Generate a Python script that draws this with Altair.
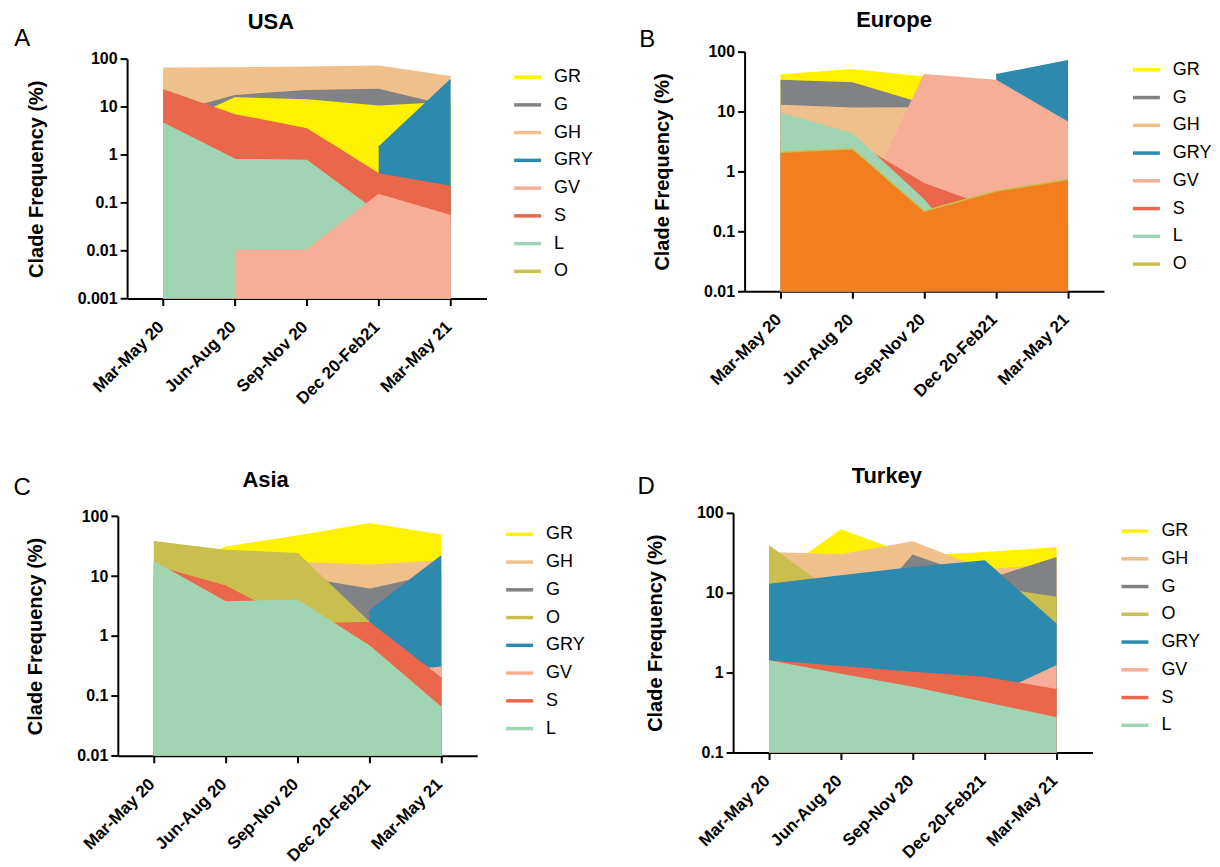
import altair as alt
import pandas as pd

periods = ["Mar-May 20", "Jun-Aug 20", "Sep-Nov 20", "Dec 20-Feb21", "Mar-May 21"]

colors = {"GR": "#FFF100", "G": "#808285", "GH": "#F0C08C", "GRY": "#2E89AE",
          "GV": "#F7AE96", "S": "#EA674B", "L": "#A1D4B2", "O": "#C9BE4E"}
europe_o_fill = "#F27E20"

# ---- USA ----
usa_legend = ["GR", "G", "GH", "GRY", "GV", "S", "L", "O"]
usa_draw = ["GH", "G", "GR", "GRY", "S", "L", "GV"]
usa_GR = [3.2, 15.3, 13.9, 10.3, 12.3]
usa_G = [6.6, 17.1, 21.8, 22.9, 10.0]
usa_GH = [63.8, 64.9, 67.0, 70.3, 42.7]
usa_GRY = [None, None, None, 1.43, 36.5]
usa_GV = [None, 0.0103, 0.0103, 0.147, 0.0535]
usa_S = [22.5, 6.8, 3.46, 0.397, 0.219]
usa_L = [4.54, 0.80, 0.755, 0.059, 0.03]
usa_ticks = [0.001, 0.01, 0.1, 1, 10, 100]

# ---- Europe ----
eu_legend = ["GR", "G", "GH", "GRY", "GV", "S", "L", "O"]
eu_draw = ["GR", "G", "GH", "GRY", "GV", "S", "L", "O"]
eu_GR = [40.9, 50.0, 37.3, None, None]
eu_G = [32.9, 30.0, 13.1, None, None]
eu_GH = [12.6, 11.4, 11.5, None, None]
eu_GRY = [None, None, None, 41.0, 70.8]
eu_GV = [None, 0.12, 40.9, 32.9, 6.6]
eu_S = [3.3, 3.2, 0.62, 0.23, 0.17]
eu_L = [9.4, 4.25, 0.33, 0.01, None]
eu_O = [2.1, 2.4, 0.218, 0.47, 0.735]
eu_ticks = [0.01, 0.1, 1, 10, 100]

# ---- Asia ----
as_legend = ["GR", "GH", "G", "O", "GRY", "GV", "S", "L"]
as_draw = ["GR", "GH", "G", "O", "GRY", "GV", "S", "L"]
as_GR = [7.4, 30.4, 46.4, 74.5, 48.2]
as_GH = [15.0, 16.0, 16.7, 15.2, 17.8]
as_G = [9.4, 9.0, 9.6, 6.0, 11.0]
as_O = [37.3, 26.8, 23.5, 1.67, None]
as_GRY = [None, None, None, 2.6, 21.5]
as_GV = [None, None, 0.2, 0.23, 0.30]
as_S = [14.7, 6.8, 1.6, 1.67, 0.196]
as_L = [17.3, 3.69, 3.93, 0.68, 0.064]
as_ticks = [0.01, 0.1, 1, 10, 100]

# ---- Turkey ----
tr_legend = ["GR", "GH", "G", "O", "GRY", "GV", "S", "L"]
tr_draw = ["GR", "GH", "G", "O", "GRY", "GV", "S", "L"]
tr_GR = [13.9, 60.7, 28.5, 31.6, 36.5]
tr_GH = [31.6, 29.6, 43.0, 19.2, 22.6]
tr_G = [2.0, 2.6, 29.3, 14.1, 27.4]
tr_O = [38.3, 8.5, 9.0, 12.0, 8.7]
tr_GRY = [12.7, 16.2, 20.5, 24.9, 4.0]
tr_GV = [None, None, 0.3, 0.46, 1.21]
tr_S = [1.4, 1.18, 1.0, 0.87, 0.61]
tr_L = [1.4, 0.95, 0.65, 0.42, 0.27]
tr_ticks = [0.1, 1, 10, 100]

FONT = "Liberation Sans"
W, H = 360, 240


def text_layer(txt, x, y, size, weight="normal"):
    return alt.Chart(pd.DataFrame({"t": [txt]})).mark_text(
        font=FONT, fontSize=size, fontWeight=weight, align="center",
        baseline="middle", color="black"
    ).encode(text="t:N", x=alt.value(x), y=alt.value(y))


def panel(name, title_pos, letter, letter_pos, legend_order, draw_order, series, ticks,
          fill_override=None, dx=0.0, dy=0.0, legend_xy=(387, 2.7)):
    """dx / dy shift the plotting frame inside the cell (to reproduce the
    slightly staggered panel positions of the original figure)."""
    fill_override = fill_override or {}
    ymin = ticks[0]
    rows = []
    for clade, vals in series.items():
        for p, v in zip(periods, vals):
            if v is not None:
                rows.append({"period": p, "clade": clade, "value": v})
    df = pd.DataFrame(rows)
    stroke_scale = alt.Scale(domain=legend_order, range=[colors[c] for c in legend_order])
    x = alt.X("period:N", sort=periods,
              scale=alt.Scale(type="point", padding=0.5, range=[dx, dx + W]),
              axis=alt.Axis(title=None, labelAngle=-45, labelAlign="right",
                            labelBaseline="alphabetic", labelPadding=22,
                            labelOffset=1.5, labelFontSize=17))
    y = alt.Y("value:Q",
              scale=alt.Scale(type="log", domain=[ymin, 100], range=[dy + H, dy]),
              axis=alt.Axis(title="Clade Frequency (%)", values=ticks, format="~g",
                            titlePadding=31, offset=-dx))
    legend = alt.Legend(title=None, orient="none", legendX=legend_xy[0],
                        legendY=legend_xy[1],
                        symbolType="stroke", symbolSize=729, symbolStrokeWidth=3.5,
                        labelFont=FONT, labelFontSize=18, labelColor="black",
                        labelOffset=11, rowPadding=2.8, padding=0)
    base = alt.Chart(df)
    layers = []
    for c in draw_order:
        b = base.transform_filter(alt.datum.clade == c)
        layers.append(b.mark_area(opacity=1, strokeWidth=0,
                                  color=fill_override.get(c, colors[c])).encode(
            x=x, y=y, y2=alt.Y2Datum(ymin)))
        layers.append(b.mark_line(strokeWidth=1.5).encode(
            x=x, y=y, stroke=alt.Stroke("clade:N", scale=stroke_scale, legend=legend)))
    layers.append(text_layer(name, title_pos[0], title_pos[1], 22, "bold"))
    layers.append(text_layer(letter, letter_pos[0], letter_pos[1], 24))
    return alt.layer(*layers).properties(width=W + dx, height=H + dy)


usa = panel("USA", (153.3, -29.3), "A", (-95.7, -12.7), usa_legend, usa_draw,
            {"GH": usa_GH, "G": usa_G, "GR": usa_GR, "GRY": usa_GRY, "S": usa_S,
             "L": usa_L, "GV": usa_GV}, usa_ticks, dx=9.3, dy=7.3, legend_xy=(395, 10))
eu = panel("Europe", (149.7, -31.3), "B", (-97.5, -11.8), eu_legend, eu_draw,
           {"GR": eu_GR, "G": eu_G, "GH": eu_GH, "GRY": eu_GRY, "GV": eu_GV,
            "S": eu_S, "L": eu_L, "O": eu_O}, eu_ticks, fill_override={"O": europe_o_fill})
asia = panel("Asia", (148, -33.3), "C", (-95.7, -25), as_legend, as_draw,
             {"GR": as_GR, "GH": as_GH, "G": as_G, "O": as_O, "GRY": as_GRY,
              "GV": as_GV, "S": as_S, "L": as_L}, as_ticks, dy=3.3, legend_xy=(387, 6))
tr = panel("Turkey", (154, -37), "D", (-87.2, -25.8), tr_legend, tr_draw,
           {"GR": tr_GR, "GH": tr_GH, "G": tr_G, "O": tr_O, "GRY": tr_GRY,
            "GV": tr_GV, "S": tr_S, "L": tr_L}, tr_ticks)

res = dict(stroke="independent", x="independent", y="independent")
row1 = alt.hconcat(usa, eu, spacing=45.8).resolve_scale(**res).resolve_legend(stroke="independent")
row2 = alt.hconcat(asia, tr, spacing=52.3).resolve_scale(**res).resolve_legend(stroke="independent")
chart = alt.vconcat(row1, row2, spacing=58).resolve_scale(**res).resolve_legend(
    stroke="independent"
).properties(
    padding={"left": 5, "top": 0, "right": 0, "bottom": 0}
).configure_view(stroke=None).configure_axis(
    grid=False, domainColor="black", domainWidth=2, tickColor="black", tickWidth=2,
    tickSize=7, labelFont=FONT, labelFontSize=16, labelFontWeight="bold",
    labelColor="black", labelPadding=3, titleFont=FONT, titleFontSize=20,
    titleFontWeight="bold", titleColor="black"
)

chart.save("out.html", embed_options={"renderer": "svg", "actions": False})
